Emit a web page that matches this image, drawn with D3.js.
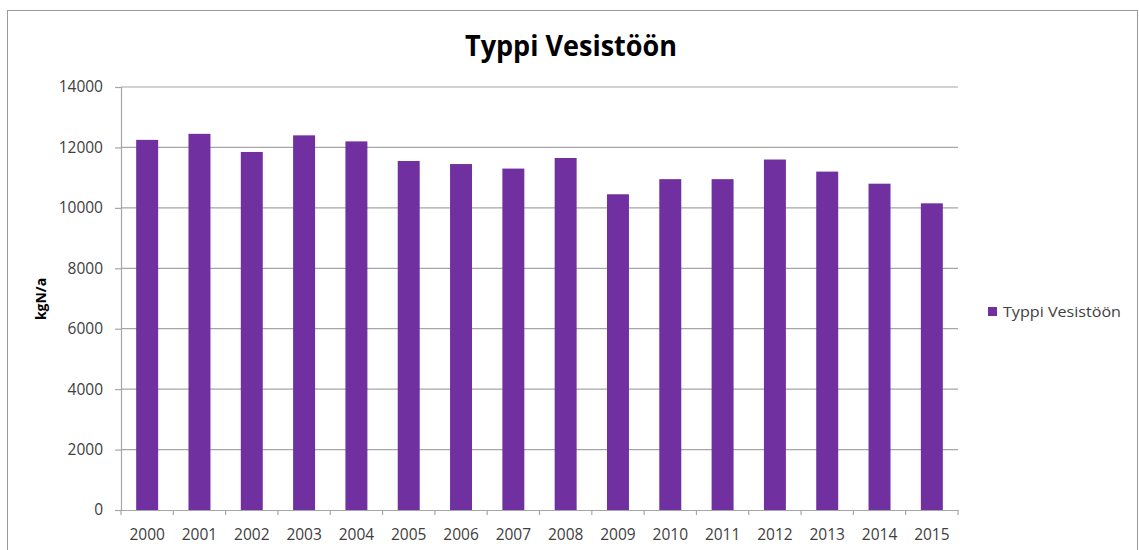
<!DOCTYPE html>
<html>
<head>
<meta charset="utf-8">
<script src="https://cdn.jsdelivr.net/npm/d3@7"></script>
<style>
  html, body { margin: 0; padding: 0; background: #fff; }
  svg { display: block; }
</style>
</head>
<body>
<svg id="chart" width="1139" height="550"></svg>
<script>
const years = ["2000","2001","2002","2003","2004","2005","2006","2007","2008","2009","2010","2011","2012","2013","2014","2015"];
const values = [12250,12450,11850,12400,12200,11550,11450,11300,11650,10450,10950,10950,11600,11200,10800,10150];
const yTicks = [0,2000,4000,6000,8000,10000,12000,14000];
const seriesName = "Typpi Vesistöön";
const titleText = "Typpi Vesistöön";
const yTitle = "kgN/a";

const svg = d3.select("#chart");
const font = "'Open Sans', 'DejaVu Sans', sans-serif";
const pLeft = 121, pRight = 958, pTop = 87, pBottom = 510;

// chart border
svg.append("rect").attr("x", 7.5).attr("y", 10.5).attr("width", 1130).attr("height", 560)
  .attr("fill", "none").attr("stroke", "#9a9a9a").attr("stroke-width", 1);

const x = d3.scaleBand().domain(years).range([pLeft, pRight]).paddingInner(0.58).paddingOuter(0.29);
const y = d3.scaleLinear().domain([0, 14000]).range([pBottom, pTop]);

// gridlines
svg.append("g").selectAll("line").data(yTicks.filter(d => d > 0)).join("line")
  .attr("x1", pLeft).attr("x2", pRight)
  .attr("y1", d => y(d)).attr("y2", d => y(d))
  .attr("stroke", "#a6a6a6").attr("stroke-width", 1.2);

// y axis
const yAxis = svg.append("g").attr("transform", `translate(${pLeft},0)`)
  .call(d3.axisLeft(y).tickValues(yTicks).tickSize(6).tickPadding(12).tickFormat(d3.format("d")));
yAxis.select(".domain").attr("stroke", "#a6a6a6").attr("stroke-width", 1.2);
yAxis.selectAll(".tick line").attr("stroke", "#a6a6a6").attr("stroke-width", 1.2);
yAxis.selectAll("text").attr("font-family", font).attr("font-size", 15.5).attr("fill", "#404040");

// bars
svg.append("g").selectAll("rect").data(years).join("rect")
  .attr("x", (d) => x(d))
  .attr("width", x.bandwidth())
  .attr("y", (d, i) => y(values[i]))
  .attr("height", (d, i) => y(0) - y(values[i]))
  .attr("fill", "#7030a0");

// x axis
const xAxis = svg.append("g").attr("transform", `translate(0,${pBottom})`)
  .call(d3.axisBottom(x).tickSize(0).tickPadding(19));
xAxis.select(".domain").attr("stroke", "#a6a6a6").attr("stroke-width", 1.2);
xAxis.selectAll("text").attr("font-family", font).attr("font-size", 15.5).attr("fill", "#404040").attr("dy", "0.71em");
// tick marks at band boundaries
const bounds = years.map((d, i) => pLeft + i * (pRight - pLeft) / years.length).concat([pRight]);
svg.append("g").selectAll("line").data(bounds).join("line")
  .attr("x1", d => d).attr("x2", d => d).attr("y1", pBottom).attr("y2", pBottom + 5)
  .attr("stroke", "#a6a6a6").attr("stroke-width", 1.2);

// title
svg.append("text").attr("x", 571).attr("y", 56).attr("text-anchor", "middle")
  .attr("font-family", font).attr("font-weight", "bold").attr("font-size", 28)
  .attr("textLength", 212).attr("lengthAdjust", "spacingAndGlyphs")
  .attr("fill", "#000").text(titleText);

// y title
svg.append("text").attr("transform", "translate(46,299) rotate(-90)").attr("text-anchor", "middle")
  .attr("font-family", font).attr("font-weight", "bold").attr("font-size", 14)
  .attr("fill", "#000").text(yTitle);

// legend
const lg = svg.append("g");
lg.append("rect").attr("x", 988).attr("y", 307).attr("width", 9).attr("height", 9).attr("fill", "#7030a0");
lg.append("text").attr("x", 1003).attr("y", 316.5)
  .attr("font-family", font).attr("font-size", 15).attr("fill", "#404040")
  .attr("textLength", 118).attr("lengthAdjust", "spacingAndGlyphs")
  .text(seriesName);
</script>
</body>
</html>
